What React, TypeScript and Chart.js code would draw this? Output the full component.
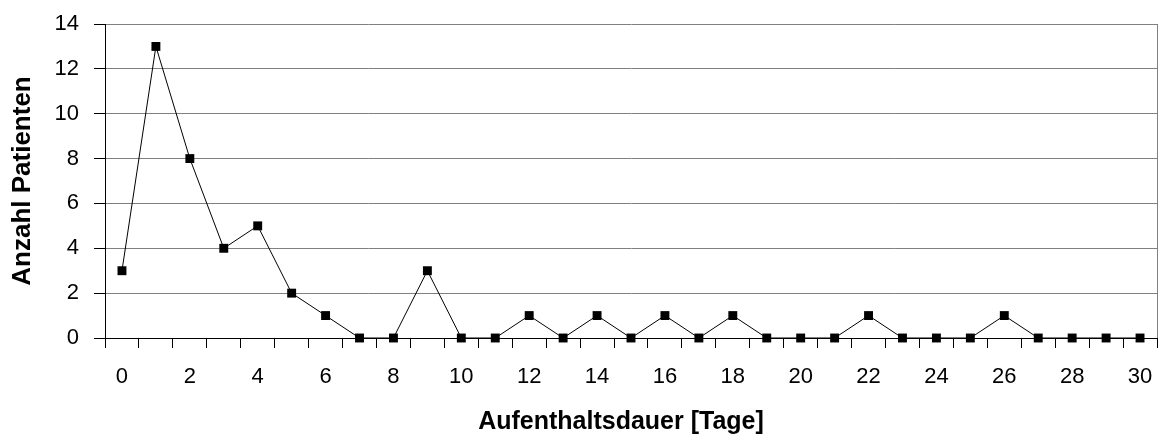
import React, { useEffect, useRef } from "react";
import { Chart, registerables } from "chart.js";

Chart.register(...registerables);

const days = Array.from({ length: 31 }, (_, i) => String(i));
const patients = [3, 13, 8, 4, 5, 2, 1, 0, 0, 3, 0, 0, 1, 0, 1, 0, 1, 0, 1, 0, 0, 0, 1, 0, 0, 0, 1, 0, 0, 0, 0];
const yTitle = "Anzahl Patienten";
const xTitle = "Aufenthaltsdauer [Tage]";

const FONT = "'Liberation Sans', Arial, sans-serif";

export default function App() {
  const ref = useRef<HTMLCanvasElement>(null);
  useEffect(() => {
    document.body.style.margin = "0";
    const chart = new Chart(ref.current!, {
      type: "line",
      data: {
        labels: days,
        datasets: [
          {
            data: patients,
            borderColor: "#000",
            borderWidth: 1,
            backgroundColor: "#000",
            pointStyle: "rect",
            pointRadius: 6.3,
            pointBorderWidth: 0,
            pointBackgroundColor: "#000",
            tension: 0,
            clip: false,
          },
        ],
      },
      options: {
        animation: false,
        responsive: false,
        maintainAspectRatio: false,
        layout: { autoPadding: false, padding: { top: 24, right: 2, left: 0, bottom: 0 } },
        plugins: { legend: { display: false }, tooltip: { enabled: false } },
        scales: {
          x: {
            type: "category",
            offset: true,
            grid: {
              display: true,
              drawOnChartArea: false,
              drawTicks: true,
              tickLength: 10,
              tickColor: "#000",
              offset: true,
            },
            border: { display: true, color: "#000", width: 1 },
            ticks: {
              autoSkip: false,
              maxRotation: 0,
              padding: 16,
              color: "#000",
              font: { family: FONT, size: 22 },
              callback: (_v: any, i: number) => (i % 2 === 0 ? days[i] : ""),
            },
            title: { display: false, text: xTitle },
            afterFit: (s: any) => {
              s.height = 103;
              s.paddingLeft = 0;
              s.paddingRight = 0;
            },
          },
          y: {
            min: 0,
            max: 14,
            ticks: {
              stepSize: 2,
              padding: 15,
              color: "#000",
              font: { family: FONT, size: 22 },
            },
            grid: {
              color: "#808080",
              lineWidth: 1,
              tickLength: 11,
              tickColor: "#000",
            },
            border: { display: true, color: "#000", width: 1 },
            title: {
              display: true,
              text: yTitle,
              color: "#000",
              font: { family: FONT, size: 26, weight: "bold" },
              padding: { top: 7, bottom: 0 },
            },
            afterFit: (s: any) => {
              s.width = 105;
              s.paddingTop = 0;
              s.paddingBottom = 0;
            },
          },
        },
      },
      plugins: [
        {
          id: "extras",
          afterDraw(c: any) {
            const { ctx, chartArea } = c;
            ctx.save();
            ctx.strokeStyle = "#808080";
            ctx.lineWidth = 1;
            ctx.beginPath();
            ctx.moveTo(chartArea.right + 0.5, chartArea.top);
            ctx.lineTo(chartArea.right + 0.5, chartArea.bottom);
            ctx.stroke();
            ctx.fillStyle = "#000";
            ctx.font = `bold 25px ${FONT}`;
            ctx.textAlign = "center";
            ctx.textBaseline = "middle";
            ctx.fillText(xTitle, 621, 422);
            ctx.restore();
          },
        },
      ],
    } as any);
    return () => chart.destroy();
  }, []);
  return (
    <div style={{ position: "absolute", left: 0, top: 0, width: 1159, height: 441 }}>
      <canvas ref={ref} width={1159} height={441} style={{ width: 1159, height: 441 }} />
    </div>
  );
}
